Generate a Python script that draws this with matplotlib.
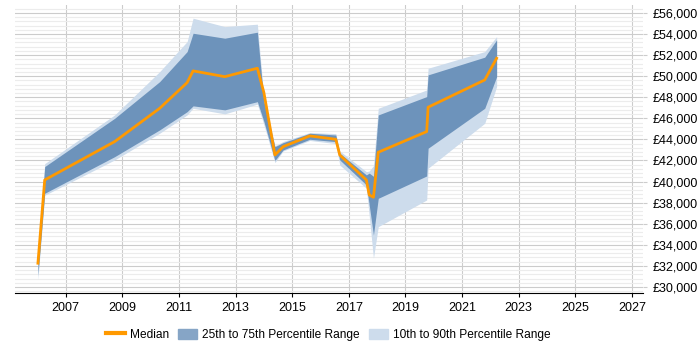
import matplotlib.pyplot as plt
from matplotlib.ticker import MultipleLocator, FuncFormatter
from matplotlib.patches import Patch
from matplotlib.lines import Line2D

plt.rcParams['font.family'] = ['Liberation Sans', 'DejaVu Sans']

years = [2006.02, 2006.26, 2008.73, 2010.32, 2011.29, 2011.5, 2012.62, 2013.77,
         2014.0, 2014.39, 2014.68, 2015.62, 2016.54, 2016.68, 2017.62, 2017.72, 2017.87,
         2018.04, 2019.75, 2019.8, 2021.8, 2022.22]
median = [32250, 40150, 43790, 46950, 49390, 50500, 49950, 50750,
          48450, 42520, 43310, 44330, 44010, 42520, 40150, 38730, 38510,
          42780, 44740, 47050, 49640, 51700]
p75 = [32800, 41420, 46000, 49480, 52330, 54070, 53600, 54170,
       47600, 43310, 43690, 44580, 44420, 42690, 40630, 40800, 40500,
       46320, 48060, 50120, 51800, 53440]
p25 = [31100, 38890, 42360, 44900, 46630, 47180, 46800, 47580,
       45700, 42000, 43000, 44010, 43790, 42050, 39680, 37780, 34930,
       38410, 40530, 43160, 46950, 49950]
p90 = [32900, 41700, 46320, 50430, 53280, 55500, 54700, 54930,
       48000, 43400, 43800, 44650, 44550, 42900, 40940, 41000, 41500,
       46950, 48690, 50750, 52330, 53750]
p10 = [30700, 38700, 42050, 44580, 46320, 46950, 46420, 47340,
       45400, 41800, 42900, 43900, 43600, 41570, 39360, 36760, 32720,
       35720, 38250, 41260, 45530, 49010]

fig = plt.figure(figsize=(7, 3.5), dpi=100)
ax = fig.add_axes([0.021, 0.163, 0.898, 0.823])

ax.fill_between(years, p10, p90, color='#cddcec', linewidth=0)
ax.fill_between(years, p25, p75, color='#6d93bb', linewidth=0)
ax.plot(years, median, color='#ff9900', linewidth=2)

ax.set_xlim(2005.2, 2027.4)
ax.set_ylim(29430, 56760)
ax.set_xticks(range(2007, 2028, 2))
ax.yaxis.set_major_locator(MultipleLocator(2000))
ax.yaxis.set_minor_locator(MultipleLocator(400))
ax.yaxis.set_major_formatter(FuncFormatter(lambda v, p: '£{:,.0f}'.format(v)))
ax.yaxis.tick_right()
ax.grid(which='major', color='#cccccc', linewidth=0.8)
ax.grid(which='minor', axis='y', color='#ececec', linewidth=0.8)
ax.set_axisbelow(True)
for s in ['left', 'right', 'top']:
    ax.spines[s].set_visible(False)
ax.spines['bottom'].set_color('black')
ax.tick_params(axis='both', labelsize=9, colors='black', length=3, width=0.8)
ax.tick_params(axis='y', which='minor', length=0)
ax.tick_params(axis='y', color='#cccccc')

handles = [Line2D([0], [0], color='#ff9900', linewidth=3),
           Patch(color='#86a5c6'),
           Patch(color='#cddcec')]
labels = ['Median', '25th to 75th Percentile Range', '10th to 90th Percentile Range']
fig.legend(handles, labels, loc='center', bbox_to_anchor=(0.469, 0.043), ncol=3,
           frameon=False, fontsize=8.6, handlelength=1.6, handleheight=1.0,
           handletextpad=0.4, columnspacing=0.8)

fig.savefig('out.png', dpi=100)
